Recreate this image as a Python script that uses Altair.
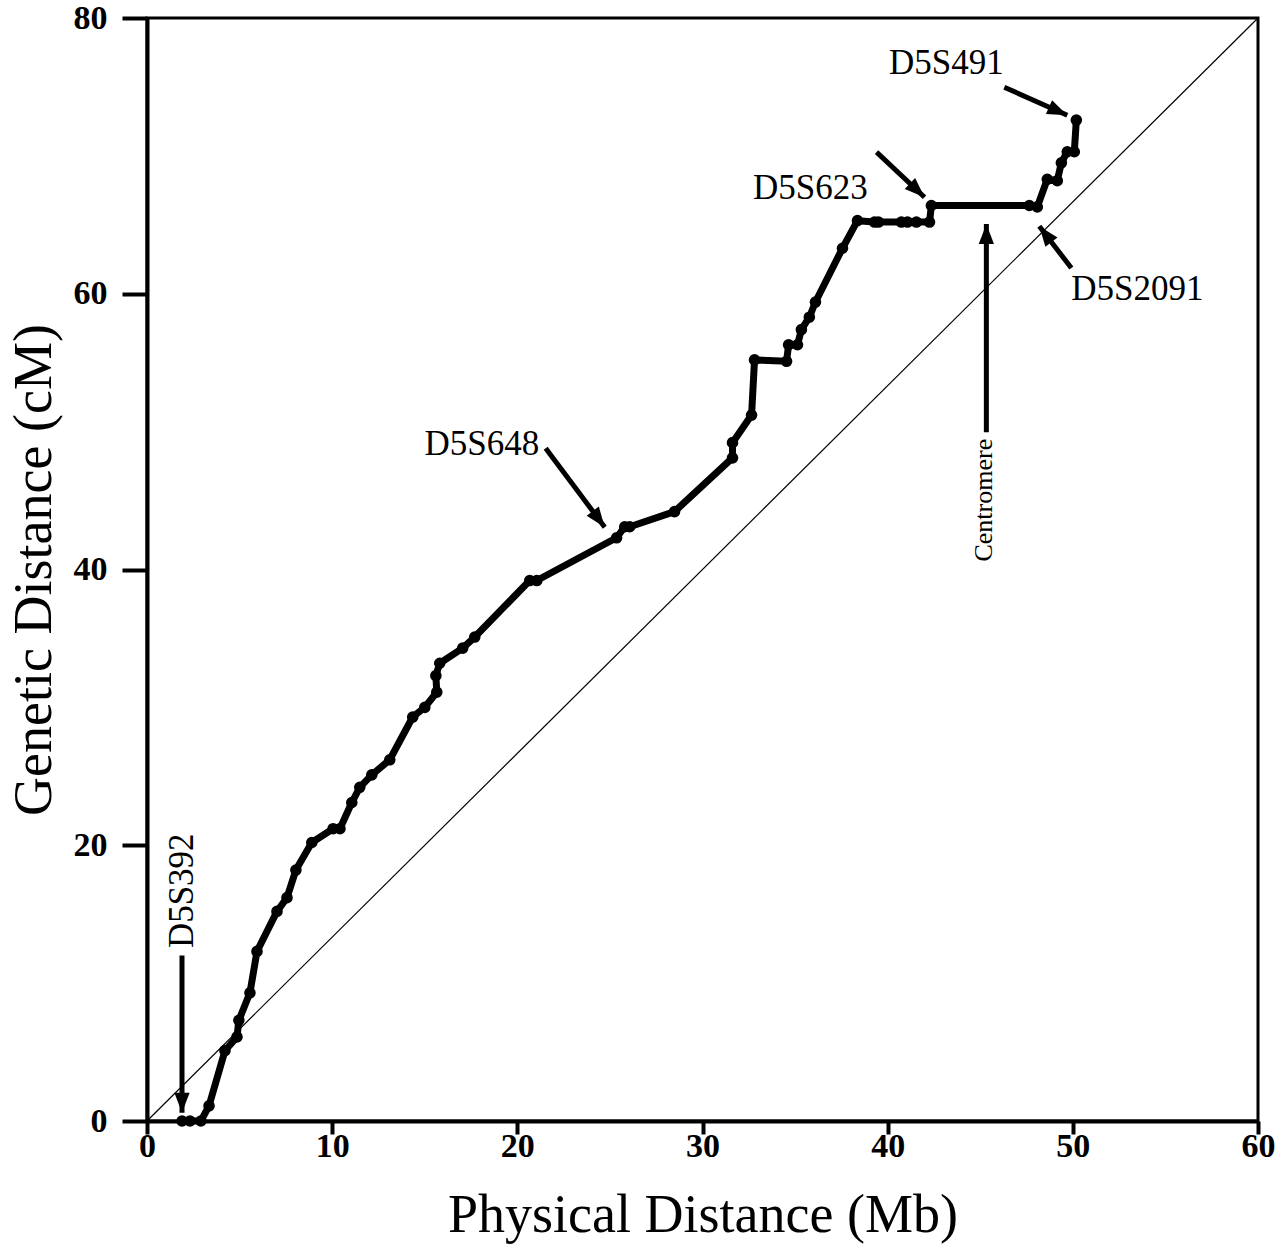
import math
import altair as alt
import pandas as pd

# Marker positions along chromosome 5p: physical (Mb) vs genetic (cM) distance
physical_mb = [1.89, 2.32, 2.91, 3.35, 4.21, 4.86, 4.96, 5.56, 5.94, 7.02,
               7.56, 8.04, 8.90, 10.05, 10.42, 11.06, 11.49, 12.14, 13.11, 14.35,
               15.00, 15.65, 15.60, 15.81, 17.05, 17.70, 20.67, 21.05, 25.36, 25.80,
               26.07, 28.49, 31.62, 31.62, 32.65, 32.81, 34.54, 34.65, 35.13, 35.34,
               35.77, 36.10, 37.56, 38.37, 39.29, 39.50, 40.74, 41.07, 41.55, 42.26,
               42.36, 47.65, 48.08, 48.62, 49.16, 49.38, 49.70, 50.08, 50.19]
genetic_cm = [0.0, 0.0, 0.0, 1.1, 5.1, 6.1, 7.3, 9.3, 12.3, 15.2,
              16.2, 18.2, 20.2, 21.2, 21.2, 23.1, 24.2, 25.1, 26.2, 29.3,
              30.0, 31.1, 32.3, 33.2, 34.3, 35.1, 39.2, 39.2, 42.3, 43.1,
              43.1, 44.2, 48.1, 49.2, 51.2, 55.2, 55.1, 56.3, 56.3, 57.4,
              58.3, 59.4, 63.3, 65.3, 65.2, 65.2, 65.2, 65.2, 65.2, 65.2,
              66.4, 66.4, 66.3, 68.3, 68.2, 69.5, 70.3, 70.3, 72.6]

# Reference line: equal physical and genetic distance (scaled to the axes)
diag_x = [0, 60]
diag_y = [0, 80]

# Marker labels and the arrows that point at them
label_text = ["D5S392", "D5S648", "D5S623", "D5S491", "D5S2091", "Centromere"]
label_x = [1.89, 18.08, 35.83, 43.17, 53.48, 45.22]
label_y = [16.7, 49.11, 67.66, 76.72, 60.33, 45.03]
label_angle = [270, 0, 0, 0, 0, 270]
label_size = [35, 35, 35, 35, 35, 26]

arrow_x0 = [1.89, 21.53, 39.40, 46.30, 49.92, 45.33]
arrow_y0 = [12.0, 48.80, 70.27, 74.98, 61.86, 49.96]
arrow_x1 = [1.89, 24.72, 41.99, 49.70, 48.19, 45.33]
arrow_y1 = [0.6, 43.07, 67.00, 72.95, 64.90, 65.05]

W, H = 1111, 1103
X_MAX, Y_MAX = 60, 80
FONT = "Liberation Serif"

px_per_x = W / X_MAX
px_per_y = H / Y_MAX

points = pd.DataFrame({"phys": physical_mb, "gen": genetic_cm, "order": range(len(physical_mb))})
diag = pd.DataFrame({"phys": diag_x, "gen": diag_y})
labels = pd.DataFrame({"txt": label_text, "x": label_x, "y": label_y,
                       "ang": label_angle, "fs": label_size})

heads = []
for x0, y0, x1, y1 in zip(arrow_x0, arrow_y0, arrow_x1, arrow_y1):
    dx = (x1 - x0) * px_per_x
    dy = -(y1 - y0) * px_per_y
    ang = math.degrees(math.atan2(dx, -dy)) % 360
    heads.append(ang)
arrows = pd.DataFrame({"x0": arrow_x0, "y0": arrow_y0, "x1": arrow_x1, "y1": arrow_y1,
                       "ang": heads})

x_scale = alt.Scale(domain=[0, X_MAX], nice=False, zero=False)
y_scale = alt.Scale(domain=[0, Y_MAX], nice=False, zero=False)

x_axis = alt.Axis(values=list(range(0, 61, 10)), title="Physical Distance (Mb)",
                  grid=False, tickSize=13, tickWidth=4, domainWidth=4,
                  labelFontSize=34, titleFontSize=54, labelPadding=-5, titlePadding=25,
                  labelFont=FONT, titleFont=FONT, titleFontWeight="normal",
                  labelFontWeight="bold",
                  labelColor="black", titleColor="black", domainColor="black",
                  tickColor="black", labelFlush=False)
y_axis = alt.Axis(values=list(range(0, 81, 20)), title="Genetic Distance (cM)",
                  grid=False, tickSize=25, tickWidth=4, domainWidth=4,
                  labelFontSize=34, titleFontSize=54, labelPadding=15, titlePadding=12,
                  labelFont=FONT, titleFont=FONT, titleFontWeight="normal",
                  labelFontWeight="bold",
                  labelColor="black", titleColor="black", domainColor="black",
                  tickColor="black", labelFlush=False)

diag_line = alt.Chart(diag).mark_line(color="black", strokeWidth=1.2).encode(
    x=alt.X("phys:Q", scale=x_scale, axis=x_axis),
    y=alt.Y("gen:Q", scale=y_scale, axis=y_axis),
)

path = alt.Chart(points).mark_line(color="black", strokeWidth=7, strokeJoin="round").encode(
    x=alt.X("phys:Q", scale=x_scale),
    y=alt.Y("gen:Q", scale=y_scale),
    order="order:Q",
)

dots = alt.Chart(points).mark_circle(color="black", size=135, opacity=1).encode(
    x=alt.X("phys:Q", scale=x_scale),
    y=alt.Y("gen:Q", scale=y_scale),
)

shafts = alt.Chart(arrows).mark_rule(color="black", strokeWidth=5).encode(
    x=alt.X("x0:Q", scale=x_scale), y=alt.Y("y0:Q", scale=y_scale),
    x2="x1:Q", y2="y1:Q",
)

tips = alt.Chart(arrows).mark_point(
    shape="M0,0L-0.38,1L0.38,1Z", filled=True, color="black", opacity=1, size=1600,
    strokeWidth=0,
).encode(
    x=alt.X("x1:Q", scale=x_scale), y=alt.Y("y1:Q", scale=y_scale),
    angle=alt.Angle("ang:Q", scale=None),
)

texts = alt.Chart(labels).mark_text(font=FONT, color="black", align="center",
                                    baseline="middle").encode(
    x=alt.X("x:Q", scale=x_scale), y=alt.Y("y:Q", scale=y_scale),
    text="txt:N",
    angle=alt.Angle("ang:Q", scale=None),
    size=alt.Size("fs:Q", scale=None, legend=None),
)

chart = alt.layer(diag_line, path, dots, shafts, tips, texts).properties(
    width=W, height=H,
    autosize=alt.AutoSizeParams(type="none"),
    padding={"left": 147, "top": 18, "right": 22, "bottom": 125},
    background="white",
).configure_view(stroke="black", strokeWidth=3)

chart.save("out.html", embed_options={"renderer": "svg", "actions": False})
